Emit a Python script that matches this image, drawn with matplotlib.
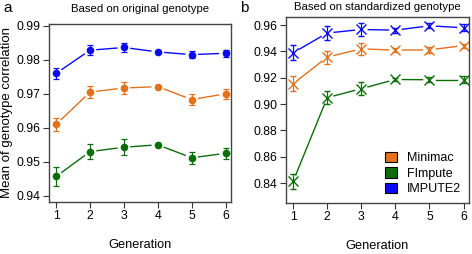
import numpy as np
import matplotlib.pyplot as plt
from matplotlib.patches import Patch

plt.rcParams['font.family'] = ['Liberation Sans', 'DejaVu Sans']

generations = [1, 2, 3, 4, 5, 6]
methods = ['Minimac', 'FImpute', 'IMPUTE2']
colors = {'Minimac': '#E2711D', 'FImpute': '#0B6E0B', 'IMPUTE2': '#0A0AF5'}

# panel a: based on original genotype
orig_mean = {
    'Minimac': [0.9610, 0.9705, 0.9717, 0.9721, 0.9683, 0.9700],
    'FImpute': [0.9457, 0.9530, 0.9543, 0.9550, 0.9512, 0.9525],
    'IMPUTE2': [0.9760, 0.9828, 0.9836, 0.9823, 0.9815, 0.9819],
}
orig_err = {
    'Minimac': [0.0020, 0.0018, 0.0018, 0.0003, 0.0015, 0.0015],
    'FImpute': [0.0029, 0.0023, 0.0023, 0.0003, 0.0017, 0.0017],
    'IMPUTE2': [0.0017, 0.0014, 0.0013, 0.0003, 0.0010, 0.0010],
}

# panel b: based on standardized genotype
std_mean = {
    'Minimac': [0.9155, 0.9357, 0.9420, 0.9410, 0.9412, 0.9445],
    'FImpute': [0.8413, 0.9049, 0.9117, 0.9187, 0.9185, 0.9185],
    'IMPUTE2': [0.9390, 0.9540, 0.9567, 0.9562, 0.9595, 0.9580],
}
std_err = {
    'Minimac': [0.0055, 0.0050, 0.0045, 0.0015, 0.0020, 0.0015],
    'FImpute': [0.0055, 0.0050, 0.0050, 0.0015, 0.0020, 0.0025],
    'IMPUTE2': [0.0056, 0.0050, 0.0048, 0.0020, 0.0020, 0.0025],
}


def gapped_line(ax, x, y, color, gap=7):
    # R type="b": segments stop short of the points
    trans = ax.transData
    pts = trans.transform(np.column_stack([x, y]))
    inv = trans.inverted()
    for p0, p1 in zip(pts[:-1], pts[1:]):
        d = p1 - p0
        length = np.hypot(*d)
        if length <= 2 * gap:
            continue
        u = d / length
        a = inv.transform(p0 + u * gap)
        b = inv.transform(p1 - u * gap)
        ax.plot([a[0], b[0]], [a[1], b[1]], color=color, lw=1)


def style_axes(ax, ylim, yticks):
    ax.set_xlim(0.79, 6.16)
    ax.set_ylim(*ylim)
    ax.set_xticks(generations)
    ax.set_yticks(yticks)
    ax.set_yticklabels([f'{t:.2f}' for t in yticks])
    ax.tick_params(direction='out', length=4.5, width=0.8, labelsize=8.8,
                   color='#333333', pad=1.5)
    for s in ax.spines.values():
        s.set_color('#444444')
        s.set_linewidth(1)
    ax.set_xlabel('Generation', fontsize=9.2, labelpad=12)


fig = plt.figure(figsize=(4.72, 2.54), dpi=100)
ax1 = fig.add_axes([0.1038, 0.2047, 0.3856, 0.7008])
ax2 = fig.add_axes([0.6059, 0.2008, 0.3877, 0.7323])

style_axes(ax1, (0.9382, 0.9905), [0.94, 0.95, 0.96, 0.97, 0.98, 0.99])
style_axes(ax2, (0.8248, 0.9662), [0.84, 0.86, 0.88, 0.90, 0.92, 0.94, 0.96])

fig.canvas.draw()

for m in methods:
    c = colors[m]
    ax1.errorbar(generations, orig_mean[m], yerr=orig_err[m], fmt='o', color=c,
                 ms=4.5, capsize=2.5, elinewidth=0.9, capthick=0.9)
    gapped_line(ax1, generations, orig_mean[m], c)
    ax2.errorbar(generations, std_mean[m], yerr=std_err[m], fmt='x', color=c,
                 ms=6.5, mew=1, capsize=2.5, elinewidth=0.9, capthick=0.9)
    gapped_line(ax2, generations, std_mean[m], c)

fig.text(0.002, 0.559, 'Mean of genotype correlation', fontsize=9.5,
         rotation=90, ha='left', va='center')
ax1.set_title('Based on original genotype', fontsize=8.2, pad=9)
ax2.set_title('Based on standardized genotype', fontsize=8.2, pad=5)

fig.text(0.008, 0.97, 'a', fontsize=11, va='center')
fig.text(0.508, 0.97, 'b', fontsize=11, va='center')

handles = [Patch(facecolor=colors[m], edgecolor='black', lw=0.8) for m in methods]
ax2.legend(handles, methods, loc='lower right', frameon=False, fontsize=9,
           handlelength=1.0, handleheight=0.9, handletextpad=0.8,
           labelspacing=0.25, borderaxespad=0.2)

fig.savefig('out.png', dpi=100)
